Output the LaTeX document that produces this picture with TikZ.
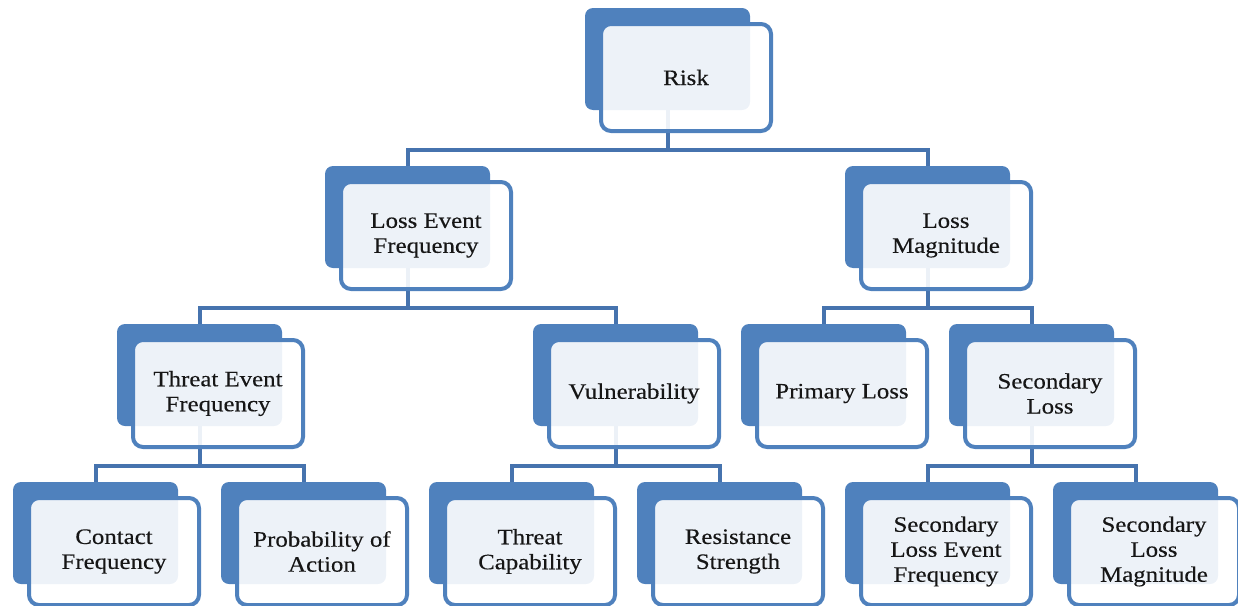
\documentclass[tikz,border=0pt]{standalone}
\usepackage{fontspec}
\setmainfont{Liberation Serif}[FakeStretch=1.13,FakeBold=0.3]
\usetikzlibrary{positioning}
\definecolor{accent}{HTML}{4F81BD}
\definecolor{connblue}{HTML}{4673AE}
\definecolor{txt}{HTML}{161616}
\pgfdeclarelayer{background}
\pgfsetlayers{background,main}
\tikzset{
  backbox/.style={fill=accent, draw=none, rounded corners=8pt, minimum width=165pt, minimum height=102pt, inner sep=0pt},
  frontbox/.style={fill=white, fill opacity=0.9, text opacity=1, draw=accent, line width=4pt, rounded corners=10pt,
    minimum width=170pt, minimum height=107pt, inner sep=0pt, align=center, text=txt,
    font=\fontsize{22}{25}\selectfont},
  conn/.style={draw=connblue, line width=4pt}
}
\newcommand\fairbox[4]{%
  \node[backbox] (#1b) at ({#2+82.5},{-#3-51}) {};
  \node[frontbox] (#1) at ({#2+101},{-#3-69.5}) {#4};
}
\begin{document}
\begin{tikzpicture}[x=1pt,y=1pt]
\useasboundingbox (0,0) rectangle (1238,-605);
\fairbox{risk}{585}{8}{Risk}
\fairbox{lef}{325}{166}{Loss Event\\Frequency}
\fairbox{lm}{845}{166}{Loss\\Magnitude}
\fairbox{tef}{117}{324}{Threat Event\\Frequency}
\fairbox{vul}{533}{324}{Vulnerability}
\fairbox{pl}{741}{324}{Primary Loss}
\fairbox{sl}{949}{324}{Secondary\\Loss}
\fairbox{cf}{13}{482}{Contact\\Frequency}
\fairbox{pa}{221}{482}{Probability of\\Action}
\fairbox{tc}{429}{482}{Threat\\Capability}
\fairbox{rs}{637}{482}{Resistance\\Strength}
\fairbox{slef}{845}{482}{Secondary\\Loss Event\\Frequency}
\fairbox{slm}{1053}{482}{Secondary\\Loss\\Magnitude}
\begin{pgfonlayer}{background}
\foreach \p/\c in {risk/lef, risk/lm, lef/tef, lef/vul, lm/pl, lm/sl, tef/cf, tef/pa, vul/tc, vul/rs, sl/slef, sl/slm}{
  \draw[conn] (\p b.center) |- ([yshift=16pt]\c b.north) -- ([yshift=-3pt]\c b.north);
}
\end{pgfonlayer}
\end{tikzpicture}
\end{document}
